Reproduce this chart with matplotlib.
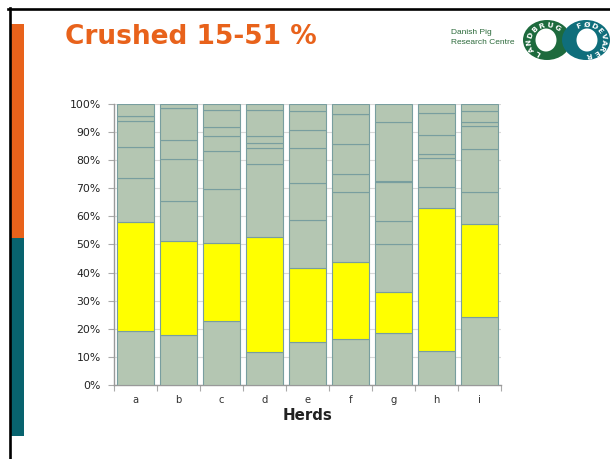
import numpy as np
import matplotlib
matplotlib.use("Agg")
import matplotlib.pyplot as plt
from matplotlib.patches import Rectangle, Ellipse
from matplotlib.lines import Line2D

# ---- data (percent of litter, per herd) ----
herds = ["a", "b", "c", "d", "e", "f", "g", "h", "i"]
s_bottom  = [19.2, 17.7, 22.8, 11.6, 15.3, 16.4, 18.6, 12.1, 24.1]
s_crushed = [38.9, 33.7, 27.6, 40.9, 26.4, 27.5, 14.6, 51.0, 33.1]
s3 = [15.5, 14.0, 19.2, 26.0, 16.9, 24.7, 16.9, 7.3, 11.5]
s4 = [11.0, 14.9, 13.6, 5.7, 13.2, 6.4, 8.2, 10.3, 15.2]
s5 = [9.4, 6.9, 5.3, 1.8, 12.4, 10.7, 13.9, 1.6, 8.3]
s6 = [1.7, 11.3, 3.2, 2.5, 6.5, 10.7, 0.5, 6.6, 1.5]
s7 = [0.0, 0.0, 6.3, 9.3, 6.8, 0.0, 21.0, 7.8, 3.8]
s8 = [4.3, 1.5, 2.0, 2.2, 2.5, 3.6, 6.3, 3.3, 2.5]
yticks = [0, 10, 20, 30, 40, 50, 60, 70, 80, 90, 100]
title = "Crushed 15-51 %"
xlabel = "Herds"

series = [s_bottom, s_crushed, s3, s4, s5, s6, s7, s8]
GREY = "#B4C6B2"
YELLOW = "#FFFF00"
colors = [GREY, YELLOW, GREY, GREY, GREY, GREY, GREY, GREY]
EDGE = "#789E9F"

W, H = 610, 459
fig = plt.figure(figsize=(W / 100, H / 100), dpi=100)
fig.patch.set_facecolor("white")

# background / slide decoration axes in pixel coordinates
bg = fig.add_axes([0, 0, 1, 1])
bg.set_xlim(0, W)
bg.set_ylim(H, 0)
bg.axis("off")
bg.add_line(Line2D([8, W], [9.3, 9.3], color="black", lw=1.9))
bg.add_line(Line2D([9.5, 9.5], [8, H], color="black", lw=1.9))
bg.add_patch(Rectangle((11, 24), 13, 214, color="#E8621B", lw=0))
bg.add_patch(Rectangle((11, 238), 13, 198, color="#08636E", lw=0))

bg.text(65, 37, title, fontsize=19, fontweight="bold", color="#E8621B",
        family="DejaVu Sans", ha="left", va="center")
bg.text(451, 33, "Danish Pig", fontsize=6, color="#2D6B3C",
        family="Liberation Sans", ha="left", va="center")
bg.text(451, 43, "Research Centre", fontsize=6, color="#2D6B3C",
        family="Liberation Sans", ha="left", va="center")

# logo: two rings with lettering
def ring(cx, cy, color, word, a0, a1):
    bg.add_patch(Ellipse((cx, cy), 48, 40, color=color, lw=0, zorder=3))
    n = len(word)
    angs = np.linspace(a0, a1, n)
    for ch, a in zip(word, angs):
        r = np.deg2rad(a)
        x = cx + 18 * np.cos(r)
        y = cy - 15 * np.sin(r)
        bg.text(x, y, ch, fontsize=5.4, fontweight="bold", color="white",
                rotation=a - 90, ha="center", va="center", zorder=5,
                family="DejaVu Sans")

ring(547, 40, "#1D6A3D", "LANDBRUG", 240, 55)
ring(586, 40, "#0F6E7B", "FØDEVARER", 112, -80)
bg.add_patch(Ellipse((546, 40), 21, 23, color="white", lw=0, zorder=4))
bg.add_patch(Ellipse((587, 40), 21, 23, color="white", lw=0, zorder=4))

# chart axes
ax = fig.add_axes([114 / W, (H - 385) / H, (501 - 114) / W, 281 / H])
ax.set_facecolor("none")
x = np.arange(len(herds))
bottom = np.zeros(len(herds))
for vals, c in zip(series, colors):
    vals = np.array(vals)
    ax.bar(x, vals, width=0.84, bottom=bottom, color=c, edgecolor=EDGE,
           linewidth=0.8, zorder=3)
    bottom += vals

ax.set_xlim(-0.5, len(herds) - 0.5)
ax.set_ylim(0, 100)
ax.set_yticks(yticks)
ax.set_yticklabels([f"{v}%" for v in yticks], fontsize=7.8, color="#222222")
ax.set_xticks(x)
ax.set_xticklabels(herds, fontsize=7.2, color="#333333")
ax.set_xticks(np.arange(-0.5, len(herds)), minor=True)
ax.tick_params(axis="x", which="major", length=0, pad=7)
ax.tick_params(axis="x", which="minor", length=4, color="#AAAAAA", width=0.8)
ax.tick_params(axis="y", length=4, color="#AAAAAA", width=0.8, pad=5.5)
ax.grid(axis="y", color="#D9D9D9", lw=0.8, zorder=0)
for s in ["top", "right"]:
    ax.spines[s].set_visible(False)
for s in ["left", "bottom"]:
    ax.spines[s].set_color("#999999")
    ax.spines[s].set_linewidth(1.0)
ax.set_xlabel(xlabel, fontsize=10.8, fontweight="bold", color="#222222",
              labelpad=2)

fig.savefig("out.png", dpi=100, facecolor="white")
